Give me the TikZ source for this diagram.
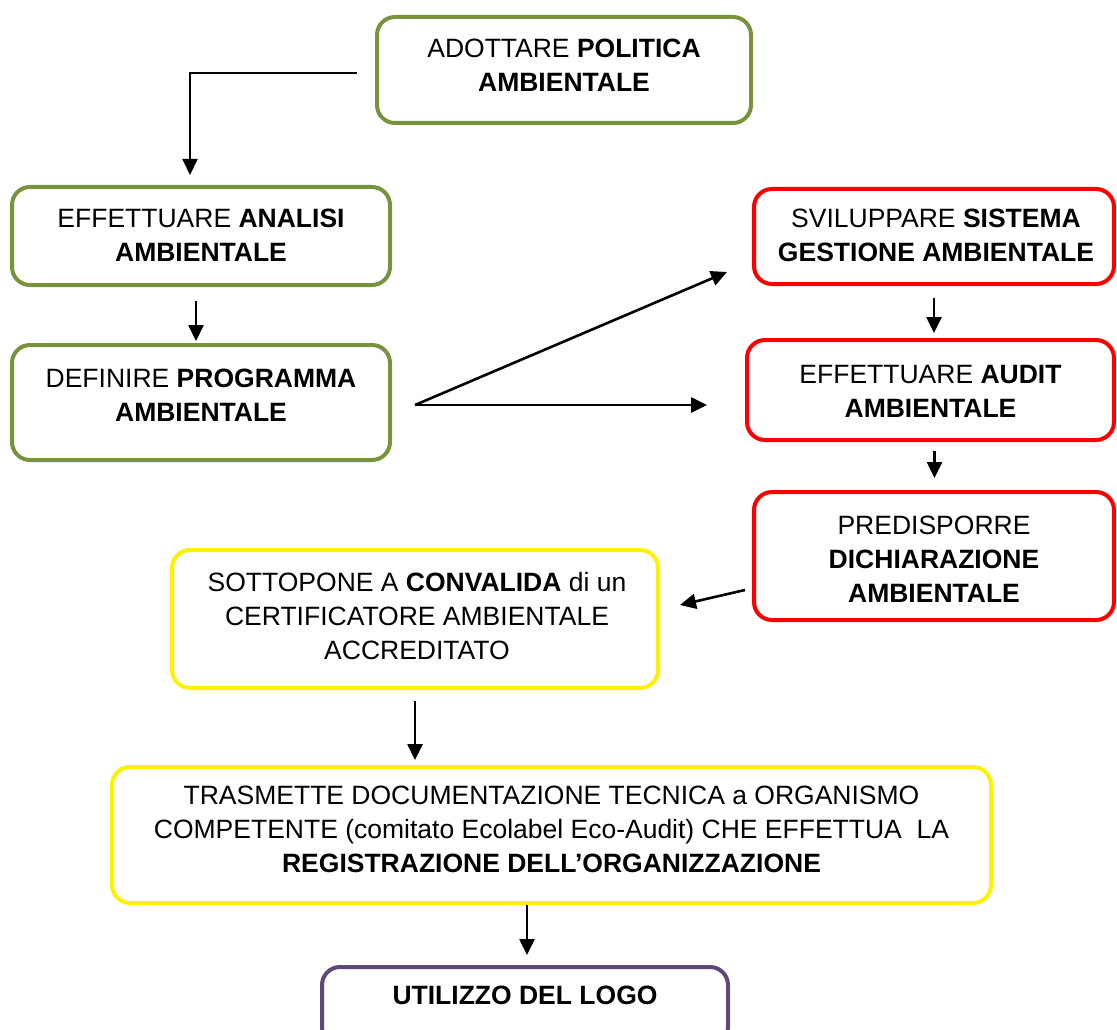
\documentclass[tikz,border=0pt]{standalone}
\usepackage{fontspec}
\setmainfont{Liberation Sans}
\usetikzlibrary{arrows.meta}

\definecolor{olive}{RGB}{119,147,60}
\definecolor{violet}{RGB}{96,73,122}

\begin{document}
\begin{tikzpicture}[x=1pt,y=-1pt,
  arr/.style={-{Triangle[length=16pt,width=15pt]},line width=2.6pt},
  frame/.style={rectangle,rounded corners=18pt,draw=#1,line width=4pt,fill=white},
  txt/.style={align=center,font=\fontsize{26.5}{34}\selectfont,inner sep=0pt}]

  \useasboundingbox (0,0) rectangle (1117,1030);

  % boxes
  \node[frame=olive,minimum width=374pt,minimum height=106pt] (pol) at (564,70) {};
  \node[frame=olive,minimum width=378pt,minimum height=98pt] (ana) at (201,236) {};
  \node[frame=olive,minimum width=378pt,minimum height=115pt] (def) at (201,402.5) {};
  \node[frame=red,minimum width=360pt,minimum height=95pt] (svi) at (934,236.5) {};
  \node[frame=red,minimum width=367pt,minimum height=100pt] (aud) at (930.5,390) {};
  \node[frame=red,minimum width=360pt,minimum height=128pt] (pre) at (934,556) {};
  \node[frame=yellow,minimum width=486pt,minimum height=138pt] (sot) at (415,619) {};
  \node[frame=yellow,minimum width=879pt,minimum height=136pt] (tra) at (551.5,835) {};
  \node[frame=violet,minimum width=406pt,minimum height=78pt] (uti) at (525,1006) {};

  % texts
  \node[txt] (polt) at (564,65) {ADOTTARE \textbf{POLITICA}\\\textbf{AMBIENTALE}};
  \node[txt] (anat) at (201,235) {EFFETTUARE \textbf{ANALISI}\\\textbf{AMBIENTALE}};
  \node[txt] (deft) at (201,395) {DEFINIRE \textbf{PROGRAMMA}\\\textbf{AMBIENTALE}};
  \node[txt] (svit) at (936,235.5) {SVILUPPARE \textbf{SISTEMA}\\\textbf{GESTIONE AMBIENTALE}};
  \node[txt] (audt) at (930.5,391) {EFFETTUARE \textbf{AUDIT}\\\textbf{AMBIENTALE}};
  \node[txt] (pret) at (934,559) {PREDISPORRE\\\textbf{DICHIARAZIONE}\\\textbf{AMBIENTALE}};
  \node[txt] (sott) at (417,616) {SOTTOPONE A \textbf{CONVALIDA} di un\\CERTIFICATORE AMBIENTALE\\ACCREDITATO};
  \node[txt] (trat) at (551.5,829) {TRASMETTE DOCUMENTAZIONE TECNICA a ORGANISMO\\COMPETENTE (comitato Ecolabel Eco-Audit) CHE EFFETTUA~ LA\\\textbf{REGISTRAZIONE DELL’ORGANIZZAZIONE}};
  \node[txt] (utit) at (525,995) {\textbf{UTILIZZO DEL LOGO}};

  % free ends
  \coordinate (polb) at (190,175);
  \coordinate (fan) at (415,405);
  \coordinate (svie) at (727,272);
  \coordinate (aude) at (707,405);
  \coordinate (pres) at (745,590);
  \coordinate (sote) at (680,605);
  \coordinate (tras) at (527,905);
  \coordinate (utie) at (527,955);

  % arrows
  \draw[arr,line width=2pt] ([xshift=-18pt,yshift=-3pt]pol.west) -| (polb);
  \draw[arr,shorten <=14pt,shorten >=2pt] ([xshift=-5pt]ana.south) -- ([xshift=-5pt]def.north);
  \draw[arr] (fan) -- (svie);
  \draw[arr] (fan) -- (aude);
  \draw[arr,shorten <=12pt,shorten >=5pt] (svi.south) -- (svi.south |- aud.north);
  \draw[arr,shorten <=9pt,shorten >=12pt] ([xshift=4pt]aud.south) -- ([xshift=4pt]aud.south |- pre.north);
  \draw[arr] (pres) -- (sote);
  \draw[arr,shorten <=11pt,shorten >=5pt] (sot.south) -- (sot.south |- tra.north);
  \draw[arr] (tras) -- (utie);

\end{tikzpicture}
\end{document}
